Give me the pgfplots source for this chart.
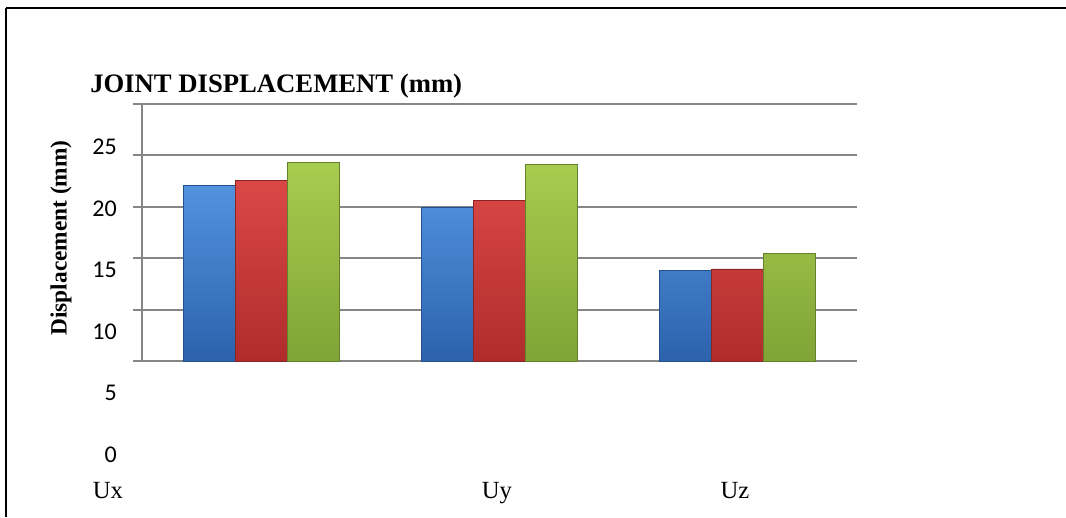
\documentclass[border=0pt]{standalone}
\usepackage{pgfplots}
\usepackage{pgfplotstable}
\pgfplotsset{compat=1.18}
\usepackage{fontspec}
\setmainfont{Liberation Serif}
\newfontfamily\calibri{Carlito}

\definecolor{gridgray}{RGB}{134,134,134}
\definecolor{blueL}{RGB}{82,146,222}
\definecolor{blueD}{RGB}{44,98,172}
\definecolor{blueE}{RGB}{36,80,140}
\definecolor{redL}{RGB}{218,72,70}
\definecolor{redD}{RGB}{176,44,44}
\definecolor{redE}{RGB}{140,36,36}
\definecolor{greenL}{RGB}{168,204,78}
\definecolor{greenD}{RGB}{128,164,54}
\definecolor{greenE}{RGB}{100,130,44}

% joint displacement per direction (mm), three load cases
\pgfplotstableread{
cat a b c
0 22.1 22.6 24.3
1 19.9 20.6 24.1
2 13.85 13.95 15.5
}\disp

\begin{document}
\begin{tikzpicture}
\begin{axis}[
    at={(106.5pt,-270.75pt)}, anchor=south west,
    scale only axis,
    width=536.25pt, height=192.75pt,
    xmin=-0.5, xmax=2.5,
    ymin=5, ymax=30,
    ybar=0pt, bar width=39pt,
    xtick=\empty,
    ytick={5,10,...,30}, yticklabels={},
    ymajorgrids,
    grid style={gridgray, line width=1.5pt},
    axis x line=none,
    axis y line*=left,
    axis line style={gridgray, line width=1.5pt},
    tick align=outside,
    major tick length=6.75pt,
    ytick style={gridgray, line width=1.5pt},
]
\addplot[draw=blueE, line width=0.6pt, top color=blueL, bottom color=blueD] table[x=cat, y=a] {\disp};
\addplot[draw=redE, line width=0.6pt, top color=redL, bottom color=redD] table[x=cat, y=b] {\disp};
\addplot[draw=greenE, line width=0.6pt, top color=greenL, bottom color=greenD] table[x=cat, y=c] {\disp};
\end{axis}

\begin{scope}[x=0.75pt, y=-0.75pt]
  \draw[line width=1.5pt] (6,8) -- (1066,8);
  \draw[line width=1.5pt] (6,8) -- (6,517);
  \node[anchor=base west, inner sep=0, font=\bfseries\fontsize{20}{24}\selectfont] at (90,93) {JOINT DISPLACEMENT (mm)};
  \node[rotate=90, inner sep=0, font=\bfseries\fontsize{17.5}{21}\selectfont] at (61,238) {Displacement (mm)};
  \foreach \v/\y in {25/147, 20/208.5, 15/270, 10/331.5, 5/393, 0/454.5}
    \node[anchor=east, inner sep=0, font=\calibri\fontsize{18}{20}\selectfont] at (117,\y) {\v};
  \foreach \t/\xx in {Ux/108, Uy/497, Uz/735}
    \node[anchor=base, inner sep=0, font=\fontsize{18.5}{22}\selectfont] at (\xx,498) {\t};
\end{scope}

\pgfresetboundingbox
\path[use as bounding box] (0,0) rectangle (799.5pt,-387.75pt);
\end{tikzpicture}
\end{document}
